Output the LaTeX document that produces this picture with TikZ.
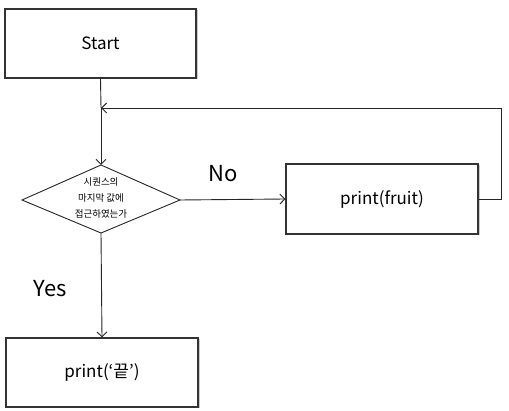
\documentclass[tikz,border=0pt]{standalone}
\usepackage{fontspec}
\setmainfont{Noto Sans CJK KR}
\usetikzlibrary{shapes.geometric,shadows,arrows.meta}
\begin{document}
\begin{tikzpicture}[x=1pt,y=-1pt,
  box/.style={draw=black!80,line width=1.1pt,fill=white,drop shadow={shadow xshift=1.5pt,shadow yshift=-1.5pt,opacity=0.35,fill=black!60},inner sep=0pt},
  conn/.style={draw=black!85,line width=0.9pt,-{Straight Barb[length=5pt,width=10pt]}},
  plain/.style={draw=black!85,line width=0.9pt}]
\useasboundingbox (0,0) rectangle (509,411);
\node[box,minimum width=191pt,minimum height=69pt] (start) at (100.5,43.5) {\fontsize{17}{20}\selectfont Start};
\node[box,minimum width=192pt,minimum height=70pt] (fruit) at (382,199) {\fontsize{17}{20}\selectfont print(fruit)};
\node[box,minimum width=192pt,minimum height=69pt] (end) at (102,372.5) {\fontsize{17}{20}\selectfont print(‘끝’)};
\coordinate (dt) at (101,165);
\coordinate (db) at (101,233);
\coordinate (dl) at (22,200);
\coordinate (dr) at (180,200);
\draw[plain,fill=white] (dt) -- (dr) -- (db) -- (dl) -- cycle;
\node[align=center,font=\fontsize{9.5}{16}\selectfont] (q) at (101,198) {시퀀스의\\마지막 값에\\접근하였는가};
\coordinate (m) at (101,108);
\coordinate (r1) at (501,108);
\coordinate (r2) at (501,199);
\draw[plain] (start.south) -- (m);
\draw[conn] (m) -- (dt);
\draw[conn] (dr) -- (fruit.west);
\draw[conn] (fruit.east) -- (r2) -- (r1) -- (m);
\draw[conn] (db) -- (end.north);
\node[font=\fontsize{22}{24}\selectfont] (no) at (223,174) {No};
\node[font=\fontsize{22}{24}\selectfont] (yes) at (50,289) {Yes};
\end{tikzpicture}
\end{document}
